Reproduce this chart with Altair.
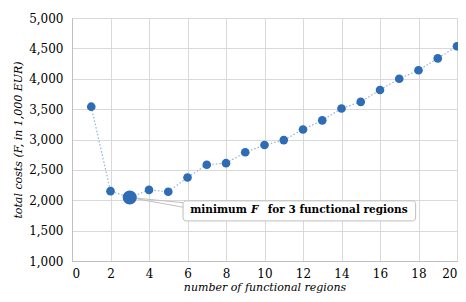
import altair as alt
import pandas as pd

regions = list(range(1, 21))
costs = [3540, 2150, 2045, 2170, 2140, 2375, 2585, 2610, 2790, 2910,
         2990, 3165, 3315, 3510, 3620, 3815, 4000, 4140, 4335, 4535]
min_region = 3
min_cost = 2045
x_ticks = list(range(0, 21, 2))
y_ticks = list(range(1000, 5001, 500))

df = pd.DataFrame({"n": regions, "cost": costs})
df_min = pd.DataFrame({"n": [min_region], "cost": [min_cost]})

FONT = "DejaVu Serif"

x_scale = alt.Scale(domain=[0, 20], nice=False, zero=False)
y_scale = alt.Scale(domain=[1000, 5000], nice=False, zero=False)

x_axis = alt.Axis(values=x_ticks, title="number of functional regions", format=".0f")
y_axis = alt.Axis(values=y_ticks, format=",.0f", title="total costs  (F, in 1,000 EUR)")


def X(field):
    return alt.X(field, type="quantitative", scale=x_scale, axis=x_axis)


def Y(field):
    return alt.Y(field, type="quantitative", scale=y_scale, axis=y_axis)


base = alt.Chart(df)

line = base.mark_line(color="#8FB2DD", strokeDash=[1.5, 2], strokeWidth=1.2).encode(
    x=X("n"), y=Y("cost"))
pts = base.mark_circle(color="#2E6CB5", opacity=1, size=75).encode(x=X("n"), y=Y("cost"))

# callout for the minimum
leader = pd.DataFrame({
    "x": [min_region, min_region], "y": [min_cost, min_cost],
    "x2": [5.77, 5.77], "y2": [1960, 1885],
})
leaders = alt.Chart(leader).mark_rule(color="#BFBFBF", strokeWidth=1).encode(
    x=X("x"), y=Y("y"), x2="x2:Q", y2="y2:Q")
box_df = pd.DataFrame({"x": [5.77], "x2": [17.85], "y": [1990], "y2": [1660]})
box = alt.Chart(box_df).mark_rect(fill="white", stroke="#BFBFBF", strokeWidth=1,
                                  cornerRadius=3).encode(
    x=X("x"), x2="x2:Q", y=Y("y"), y2="y2:Q")
big = alt.Chart(df_min).mark_circle(color="#2E6CB5", opacity=1, size=200).encode(
    x=X("n"), y=Y("cost"))

txt_df = pd.DataFrame({
    "x": [9.08, 9.30, 10.17],
    "y": [1835, 1835, 1835],
    "t": ["minimum", "F", "for 3 functional regions"],
    "style": ["normal", "italic", "normal"],
    "align": ["right", "left", "left"],
})
texts = []
for i in range(3):
    texts.append(
        alt.Chart(txt_df.iloc[[i]]).mark_text(
            font=FONT, fontSize=10.5, fontWeight="bold",
            fontStyle=txt_df["style"][i], align=txt_df["align"][i], baseline="middle",
            color="#000000"
        ).encode(x=X("x"), y=Y("y"), text="t:N")
    )

chart = alt.layer(line, pts, leaders, box, big, *texts).properties(
    width=385, height=243,
    autosize=alt.AutoSizeParams(type="none"),
    padding={"left": 64, "top": 10, "right": 1, "bottom": 38},
).configure_view(stroke=None).configure(background="white", font=FONT).configure_axis(
    grid=True, gridColor="#D9D9D9", domainColor="#BFBFBF", ticks=False,
    labelFont=FONT, labelFontSize=12, labelColor="#000000",
    titleFont=FONT, titleFontSize=11, titleFontStyle="italic",
    titleFontWeight="normal", titleColor="#000000",
).configure_axisX(labelPadding=7, titlePadding=2).configure_axisY(
    labelPadding=9, titlePadding=5)

chart.save("out.html", embed_options={"renderer": "svg", "actions": False})
